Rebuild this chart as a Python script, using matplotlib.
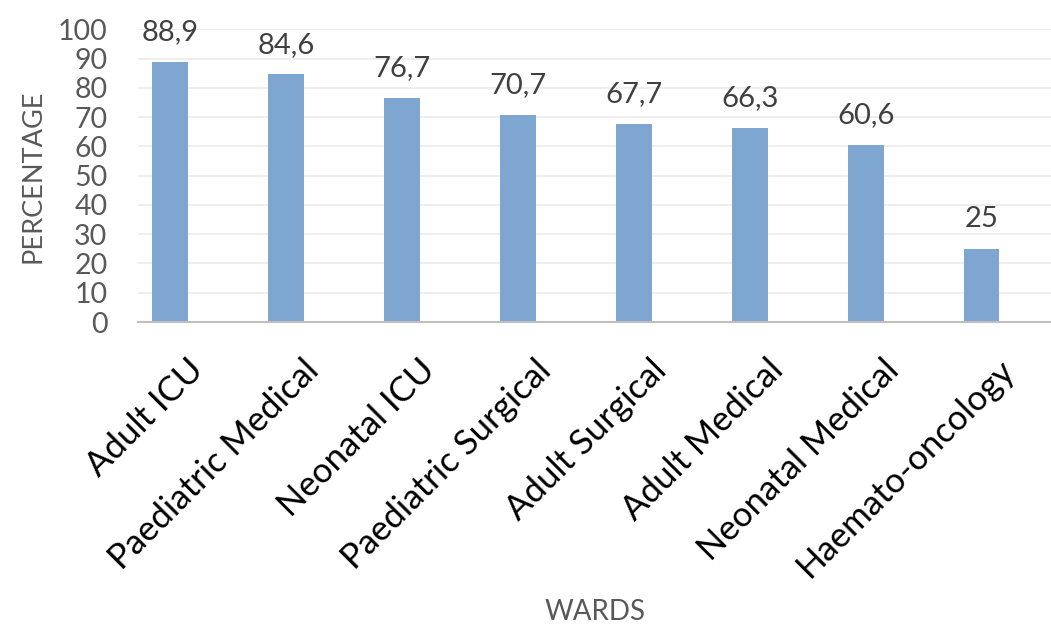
import matplotlib
matplotlib.use("Agg")
import matplotlib.pyplot as plt
import matplotlib.transforms as mtransforms

wards = [
    "Adult ICU",
    "Paediatric Medical",
    "Neonatal ICU",
    "Paediatric Surgical",
    "Adult Surgical",
    "Adult Medical",
    "Neonatal Medical",
    "Haemato-oncology",
]
percentages = [88.9, 84.6, 76.7, 70.7, 67.7, 66.3, 60.6, 25]
y_ticks = list(range(0, 101, 10))

plt.rcParams["font.family"] = ["Lato", "DejaVu Sans"]

fig = plt.figure(figsize=(10.51, 6.32), dpi=100)
ax = fig.add_axes([0.1313, 0.4905, 0.8687, 0.4631])

xs = list(range(len(wards)))
ax.bar(xs, percentages, width=0.31, color="#7FA6D0", zorder=2)

# value labels above each bar, decimal comma
for x, v in zip(xs, percentages):
    label = "{:g}".format(v).replace(".", ",")
    ax.annotate(label, (x, v), xytext=(0, 12), textcoords="offset points",
                ha="center", va="bottom", fontsize=21, color="#404040")

ax.set_xlim(-0.28, 7.6)
ax.set_ylim(0, 100)
ax.set_yticks(y_ticks)
ax.tick_params(axis="y", length=0, labelsize=20.5, labelcolor="#595959", pad=22)
ax.tick_params(axis="x", length=0, pad=0)
ax.set_xticks(xs)
ax.set_xticklabels(wards, rotation=45, ha="right", va="center",
                   rotation_mode="anchor", fontsize=25, color="black")

# push the slanted ward names right/down so they end just past each bar
shift = mtransforms.ScaledTranslation(20 / 72, -31 / 72, fig.dpi_scale_trans)
for lbl in ax.get_xticklabels():
    lbl.set_transform(lbl.get_transform() + shift)

ax.grid(axis="y", color="#EBEBEB", linewidth=1.2, zorder=0)
for side in ["top", "right", "left"]:
    ax.spines[side].set_visible(False)
ax.spines["bottom"].set_color("#BFBFBF")
ax.spines["bottom"].set_linewidth(1.5)

fig.text(33 / 1051, 1 - 176 / 632, "PERCENTAGE", rotation=90, fontsize=19.5,
         color="#595959", ha="center", va="center")
fig.text(595 / 1051, 1 - 612 / 632, "WARDS", fontsize=20, color="#595959",
         ha="center", va="center")

fig.savefig("out.png", dpi=100)
